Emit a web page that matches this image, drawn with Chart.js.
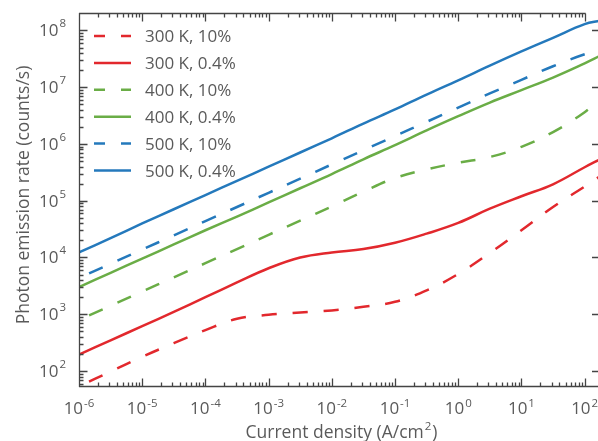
<!DOCTYPE html>
<html><head><meta charset="utf-8">
<script src="https://cdn.jsdelivr.net/npm/chart.js@4"></script>
<style>html,body{margin:0;padding:0;overflow:hidden;background:#fff;width:598px;height:441px}canvas{display:block}</style>
</head><body>
<canvas id="c" width="602" height="441" style="width:602px;height:441px"></canvas>
<script>
// Current density (A/cm^2)
const currentDensity = [1e-6, 3.16e-6, 1e-5, 3.16e-5, 1e-4, 3.16e-4, 1e-3, 3.16e-3, 1e-2, 3.16e-2, 0.1, 0.316, 1, 3.16, 10, 31.6, 100, 175];
// Photon emission rate (counts/s)
const rate300K10  = [53.7, 97.7, 178, 309, 525, 832, 977, 1070, 1170, 1350, 1660, 2630, 5130, 12000, 30200, 77600, 178000, 269000];
const rate300K04  = [195, 347, 617, 1100, 2000, 3630, 6460, 10000, 12300, 14100, 18200, 26300, 40700, 72400, 120000, 195000, 389000, 537000];
const rate400K10  = [794, 1410, 2510, 4470, 7940, 14100, 25100, 44700, 79400, 145000, 251000, 355000, 468000, 589000, 891000, 1.62e6, 3.63e6, 6.17e6];
const rate400K04  = [3020, 5370, 9550, 17000, 30200, 52500, 93300, 166000, 295000, 537000, 955000, 1.74e6, 3.09e6, 5.37e6, 8.91e6, 1.48e7, 2.63e7, 3.55e7];
const rate500K10  = [4370, 7760, 13800, 24500, 43700, 77600, 138000, 245000, 437000, 776000, 1.38e6, 2.45e6, 4.37e6, 7.76e6, 1.35e7, 2.34e7, 3.80e7, 4.47e7];
const rate500K04  = [12300, 21900, 39800, 70800, 126000, 224000, 398000, 708000, 1.26e6, 2.29e6, 4.07e6, 7.41e6, 1.32e7, 2.40e7, 4.27e7, 7.41e7, 1.29e8, 1.48e8];
const seriesLabels = ['300 K, 10%', '300 K, 0.4%', '400 K, 10%', '400 K, 0.4%', '500 K, 10%', '500 K, 0.4%'];
const xTickExponents = [-6, -5, -4, -3, -2, -1, 0, 1, 2];
const yTickExponents = [2, 3, 4, 5, 6, 7, 8];
const xTitle = 'Current density (A/cm';
const xTitleSup = '2';
const yTitle = 'Photon emission rate (counts/s)';

const RED = '#e2282d', GREEN = '#6aad46', BLUE = '#2479bc';
const DASH = [15, 16];
function ds(label, vals, color, dashed) {
  return {
    label, data: currentDensity.map((x, i) => ({x, y: vals[i]})),
    borderColor: color, backgroundColor: color, borderWidth: 2.5,
    borderDash: dashed ? DASH : [], borderDashOffset: dashed ? 20 : 0,
    borderCapStyle: 'butt', pointRadius: 0, fill: false,
    tension: 0.4
  };
}
const FONT = '"Open Sans", "DejaVu Sans", sans-serif';
const TXT = '#5a5a5a', AX = '#444';

const framePlugin = {
  id: 'frame',
  afterDatasetsDraw(chart) {
    const {ctx, chartArea: a, scales: {x, y}} = chart;
    ctx.save();
    ctx.strokeStyle = AX; ctx.lineWidth = 1.3;
    const top = Math.round(a.top) + 0.5, bot = Math.round(a.bottom) - 0.5, lft = Math.round(a.left) + 0.5;
    ctx.beginPath();
    ctx.moveTo(a.left, bot); ctx.lineTo(a.right, bot);
    ctx.moveTo(lft, a.top); ctx.lineTo(lft, a.bottom);
    ctx.moveTo(a.left, top); ctx.lineTo(x.getPixelForValue(100) + 1, top);
    for (let e = -6; e <= 2; e++) {
      for (let m = 1; m <= 9; m++) {
        const v = m * Math.pow(10, e);
        if (v > x.max) break;
        const px = Math.round(x.getPixelForValue(v)) + 0.5;
        const len = m === 1 ? 8 : 4;
        ctx.moveTo(px, bot); ctx.lineTo(px, bot - len);
        if (v <= 100) { ctx.moveTo(px, top); ctx.lineTo(px, top + len); }
      }
    }
    for (let e = 1; e <= 8; e++) {
      for (let m = 1; m <= 9; m++) {
        const v = m * Math.pow(10, e);
        if (v < y.min || v > y.max) continue;
        const py = Math.round(y.getPixelForValue(v)) + 0.5;
        const len = m === 1 ? 8 : 4;
        ctx.moveTo(lft, py); ctx.lineTo(lft + len, py);
        if (m === 1) { ctx.moveTo(a.right, py); ctx.lineTo(a.right - len, py); }
      }
    }
    ctx.stroke();

    ctx.fillStyle = TXT;
    const big = '17px ' + FONT, small = '11.5px ' + FONT;
    const lab = '17.5px ' + FONT, leg = '17px ' + FONT;
    ctx.textBaseline = 'alphabetic';
    xTickExponents.forEach(e => {
      const px = x.getPixelForValue(Math.pow(10, e));
      ctx.font = big; const w1 = ctx.measureText('10').width;
      ctx.font = small; const w2 = ctx.measureText(String(e)).width;
      const w = w1 + 1 + w2, sx = px - w / 2;
      ctx.textAlign = 'left';
      ctx.font = big; ctx.fillText('10', sx, 414);
      ctx.font = small; ctx.fillText(String(e), sx + w1 + 1, 406.5);
    });
    yTickExponents.forEach(e => {
      const py = y.getPixelForValue(Math.pow(10, e));
      const rx = 66;
      ctx.textAlign = 'right';
      ctx.font = small; const w2 = ctx.measureText(String(e)).width;
      ctx.fillText(String(e), rx, py - 3);
      ctx.font = big; ctx.fillText('10', rx - w2 - 1, py + 6);
    });

    ctx.font = lab; ctx.textAlign = 'left';
    const tw = ctx.measureText(xTitle).width;
    ctx.font = small; const sw = ctx.measureText(xTitleSup).width;
    ctx.font = lab; const cw = ctx.measureText(')').width;
    const total = tw + sw + 2 + cw;
    const cx = (a.left + a.right) / 2 + 2;
    let sx = cx - total / 2;
    ctx.fillText(xTitle, sx, 438);
    ctx.font = small; ctx.fillText(xTitleSup, sx + tw + 1, 430);
    ctx.font = lab; ctx.fillText(')', sx + tw + sw + 2, 438);

    ctx.save();
    ctx.translate(29, 195);
    ctx.rotate(-Math.PI / 2);
    ctx.textAlign = 'center';
    ctx.fillText(yTitle, 0, 0);
    ctx.restore();

    chart.data.datasets.forEach((d, i) => {
      const cy = 36 + i * 26.9;
      ctx.save();
      ctx.strokeStyle = d.borderColor; ctx.lineWidth = d.borderWidth;
      ctx.lineCap = 'butt';
      if (d.borderDash.length) { ctx.setLineDash(d.borderDash); ctx.lineDashOffset = 4; }
      ctx.beginPath(); ctx.moveTo(94, cy); ctx.lineTo(131, cy); ctx.stroke();
      ctx.restore();
      ctx.fillStyle = TXT; ctx.font = leg; ctx.textAlign = 'left';
      ctx.fillText(d.label, 145, cy + 6);
    });
    ctx.restore();
  }
};

new Chart(document.getElementById('c'), {
  type: 'line',
  data: {
    datasets: [
      ds(seriesLabels[0], rate300K10, RED, true),
      ds(seriesLabels[1], rate300K04, RED, false),
      ds(seriesLabels[2], rate400K10, GREEN, true),
      ds(seriesLabels[3], rate400K04, GREEN, false),
      ds(seriesLabels[4], rate500K10, BLUE, true),
      ds(seriesLabels[5], rate500K04, BLUE, false)
    ]
  },
  options: {
    responsive: false, animation: false, devicePixelRatio: 1,
    layout: {padding: {left: 79, right: 2, top: 13, bottom: 54}},
    plugins: {legend: {display: false}, tooltip: {enabled: false}},
    scales: {
      x: {type: 'logarithmic', min: 1e-6, max: 175, display: false},
      y: {type: 'logarithmic', min: 52.3, max: 2.03e8, display: false}
    }
  },
  plugins: [framePlugin]
});
</script>
</body></html>
